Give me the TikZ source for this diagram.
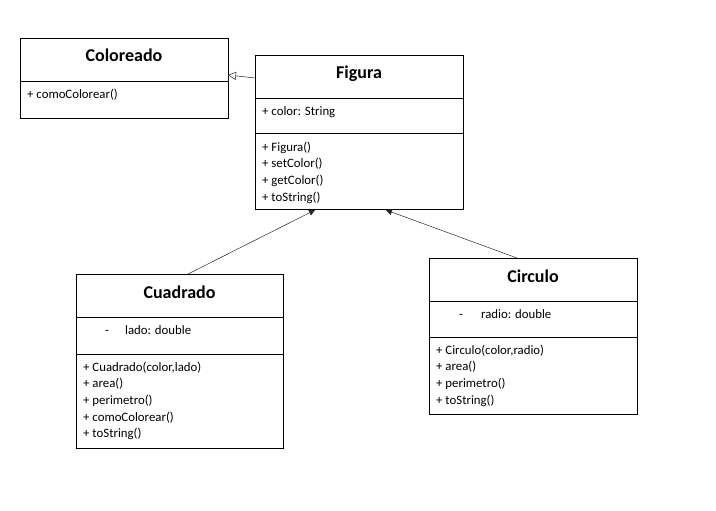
\documentclass[tikz,border=0pt]{standalone}
\usepackage{fontspec}
\setmainfont{Carlito}
\usetikzlibrary{arrows.meta,positioning}
\tikzset{%
    compart/.style = {
        rectangle, draw=black, line width=0.8pt, inner sep=0pt, outer sep=0pt,
        minimum width=208pt
    },
    title/.style = {
        compart, minimum height=43pt, text height=13pt, text depth=8pt,
        font=\fontsize{18}{22}\selectfont\bfseries
    },
    members/.style = {
        anchor=north west, inner sep=0pt, align=left,
        font=\fontsize{12.8}{16.7}\selectfont
    },
    inherit/.style = {
        line width=0.5pt, draw=black!85,
        -{Triangle[length=6pt,width=6pt]}
    },
    realize/.style = {
        line width=0.5pt, draw=black!85,
        -{Triangle[open,length=8pt,width=8pt]}
    },
}
\begin{document}
\begin{tikzpicture}[x=1pt, y=1pt, node distance=0pt]
        \useasboundingbox (0,0) rectangle (716,-511);
        % Nodes position
        \node (colTitle)  [title] at (124,-59.5) {Coloreado};
        \node (colOps)    [compart, minimum height=37pt, below=of colTitle] {};

        \node (figTitle)  [title] at (359,-76.5) {Figura};
        \node (figAttr)   [compart, minimum height=35pt, below=of figTitle] {};
        \node (figOps)    [compart, minimum height=76pt, below=of figAttr] {};

        \node (cuadTitle) [title, minimum width=207pt] at (179.5,-295.5) {Cuadrado};
        \node (cuadAttr)  [compart, minimum width=207pt, minimum height=37pt,
                           below=of cuadTitle] {};
        \node (cuadOps)   [compart, minimum width=207pt, minimum height=94pt,
                           below=of cuadAttr] {};

        \node (circTitle) [title] at (533,-279.5) {Circulo};
        \node (circAttr)  [compart, minimum height=36pt, below=of circTitle] {};
        \node (circOps)   [compart, minimum height=77pt, below=of circAttr] {};

        % Members
        \node (colOpsText)  [members] at ([shift={(7,-8)}]colOps.north west)
            {+ comoColorear()};
        \node (figAttrText) [members] at ([shift={(7,-8.5)}]figAttr.north west)
            {+ color: String};
        \node (figOpsText)  [members] at ([shift={(7,-8.5)}]figOps.north west)
            {+ Figura()\\+ setColor()\\+ getColor()\\+ toString()};
        \node (cuadAttrText) [members] at ([shift={(29,-8.5)}]cuadAttr.north west)
            {-\hspace{16pt}lado: double};
        \node (cuadOpsText)  [members] at ([shift={(7,-7.5)}]cuadOps.north west)
            {+ Cuadrado(color,lado)\\+ area()\\+ perimetro()\\+ comoColorear()\\+ toString()};
        \node (circAttrText) [members] at ([shift={(30,-8)}]circAttr.north west)
            {-\hspace{18pt}radio: double};
        \node (circOpsText)  [members] at ([shift={(7,-7.5)}]circOps.north west)
            {+ Circulo(color,radio)\\+ area()\\+ perimetro()\\+ toString()};

        % Arrow specification
        \draw[realize] ([yshift=-1.5pt]figTitle.west) -- ([yshift=6pt]colTitle.south east);
        \draw[inherit] ([xshift=8.5pt]cuadTitle.north) -- ([xshift=-44pt,yshift=-1pt]figOps.south);
        \draw[inherit] ([xshift=-16pt]circTitle.north) -- ([xshift=27pt,yshift=-1pt]figOps.south);
    \end{tikzpicture}
\end{document}
